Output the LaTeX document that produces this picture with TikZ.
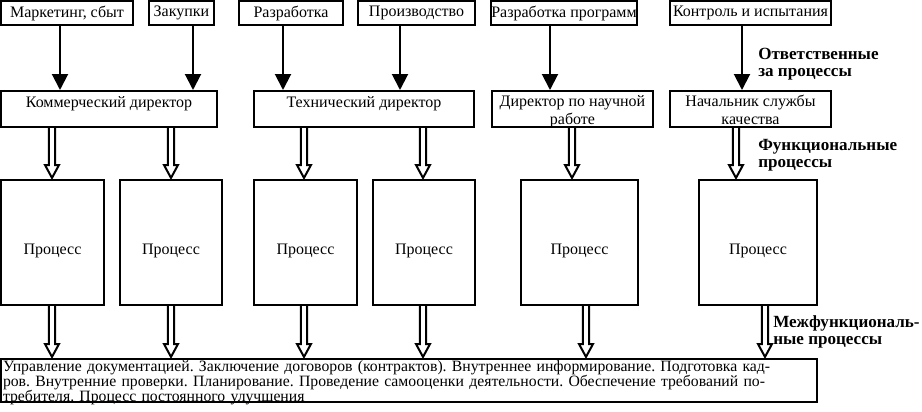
\documentclass[tikz,border=0pt]{standalone}
\usepackage{fontspec}
\setmainfont{Liberation Serif}
\usetikzlibrary{arrows.meta,calc}
\newcommand\hollowar[3]{%
  \draw[hol] let \p1=(#1.south), \p2=(#2.north) in
    ({#3*0.75pt-2.4pt},\y1) -- ({#3*0.75pt-2.4pt},{\y2+10.5pt})
    -- ({#3*0.75pt-5.25pt},{\y2+10.5pt}) -- ({#3*0.75pt},{\y2+0.8pt})
    -- ({#3*0.75pt+5.25pt},{\y2+10.5pt}) -- ({#3*0.75pt+2.4pt},{\y2+10.5pt})
    -- ({#3*0.75pt+2.4pt},\y1);}
\newcommand\proctext{\raisebox{-6pt}[\height][\depth]{Процесс}}
\begin{document}
\frenchspacing
\begin{tikzpicture}[x=0.75pt,y=-0.75pt,
  box/.style={draw,line width=1.5pt,inner sep=0pt,font=\fontsize{12}{13.5}\selectfont,align=center},
  dir/.style={text height=12pt,text depth=15pt},
  dirtwo/.style={text height=25pt,text depth=2pt},
  sz/.style 2 args={minimum width=#1*0.75pt,minimum height=#2*0.75pt},
  arr/.style={line width=1.5pt,-{Triangle[length=12pt,width=12pt]}},
  hol/.style={line width=1.5pt,line join=miter},
  lab/.style={font=\fontsize{12.8}{13}\selectfont\bfseries,align=left,anchor=west,inner sep=0pt}]
\useasboundingbox (0,0) rectangle (922,411);
% top row
\node[box,sz={132}{24}] (t1) at (67,13) {Маркетинг, сбыт};
\node[box,sz={65}{24}] (t2) at (181.5,13) {Закупки};
\node[box,sz={104}{24}] (t3) at (291,13) {Разработка};
\node[box,sz={117}{24}] (t4) at (416.5,13) {Производство};
\node[box,sz={146}{24}] (t5) at (564,13) {Разработка программ};
\node[box,sz={161}{24}] (t6) at (750.5,13) {Контроль и испытания};
% directors
\node[box,dir,sz={216}{36}] (d1) at (109,109) {Коммерческий директор};
\node[box,dir,sz={220}{36}] (d2) at (364,109) {Технический директор};
\node[box,dirtwo,sz={161}{36}] (d3) at (572.5,109) {Директор по научной\\работе};
\node[box,dirtwo,sz={161}{36}] (d4) at (750.5,109) {Начальник службы\\качества};
% processes
\node[box,sz={103}{125}] (p1) at (52.5,242.5) {\proctext};
\node[box,sz={102}{125}] (p2) at (171,242.5) {\proctext};
\node[box,sz={103}{125}] (p3) at (305.5,242.5) {\proctext};
\node[box,sz={102}{125}] (p4) at (424,242.5) {\proctext};
\node[box,sz={117}{125}] (p5) at (579.5,242.5) {\proctext};
\node[box,sz={118}{125}] (p6) at (758,242.5) {\proctext};
% bottom
\node[box,sz={816}{43},text width=609pt,inner xsep=1.5pt,align=left,
  text height=9.5pt,text depth=22.75pt,
  font=\fontsize{11.8}{11.2}\selectfont] (b) at (409,380.5)
  {\makebox[609pt][s]{Управление документацией. Заключение договоров (контрактов). Внутреннее информирование. Подготовка кад-}\\
   \makebox[609pt][s]{ров. Внутренние проверки. Планирование. Проведение самооценки деятельности. Обеспечение требований по-}\\
   требителя. Процесс постоянного улучшения};
% columns
\coordinate (x1) at (60,0);
\coordinate (x2) at (193,0);
\coordinate (x3) at (283,0);
\coordinate (x4) at (400,0);
\coordinate (x5) at (550,0);
\coordinate (x6) at (742,0);
\draw[arr] (t1.south -| x1) -- (d1.north -| x1);
\draw[arr] (t2.south -| x2) -- (d1.north -| x2);
\draw[arr] (t3.south -| x3) -- (d2.north -| x3);
\draw[arr] (t4.south -| x4) -- (d2.north -| x4);
\draw[arr] (t5.south -| x5) -- (d3.north -| x5);
\draw[arr] (t6.south -| x6) -- (d4.north -| x6);
% hollow arrows
\hollowar{d1}{p1}{52}
\hollowar{d1}{p2}{171}
\hollowar{d2}{p3}{304}
\hollowar{d2}{p4}{423}
\hollowar{d3}{p5}{572}
\hollowar{d4}{p6}{736}
\hollowar{p1}{b}{52}
\hollowar{p2}{b}{171}
\hollowar{p3}{b}{304}
\hollowar{p4}{b}{423}
\hollowar{p5}{b}{586}
\hollowar{p6}{b}{765}
% labels
\node[lab] (l1) at (758,64) {Ответственные\\за процессы};
\node[lab] (l2) at (758,155.5) {Функциональные\\процессы};
\node[lab] (l3) at (773,332) {Межфункциональ-\\ные процессы};
\end{tikzpicture}
\end{document}
